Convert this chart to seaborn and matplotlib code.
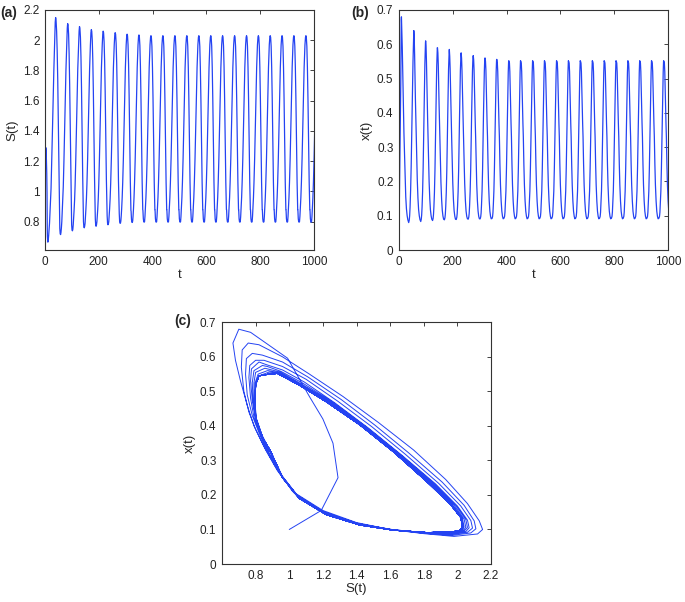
import matplotlib
matplotlib.use("Agg")
import matplotlib.pyplot as plt
import seaborn as sns
import pandas as pd

sns.set_style("white")
plt.rcParams["font.family"] = ["Liberation Sans", "DejaVu Sans"]

# times of the x(t) maxima; the last one lies past t = 1000
x_peak_t = [9, 55, 99, 143, 187, 231, 276, 320, 364, 409, 453, 498, 542, 587, 631,
            675, 720, 764, 808, 852, 896, 940, 985, 1029]

# start-up transient, t = 0 .. 9
transient_t = [0, 1.5, 3, 4.5, 5.5, 6.5, 7.5, 8.3]
transient_S = [1.00, 1.19, 1.29, 1.26, 1.20, 1.12, 0.99, 0.77]
transient_x = [0.10, 0.155, 0.25, 0.35, 0.42, 0.485, 0.596, 0.671]

# where each traced point falls inside one cycle (fraction of the period)
cycle_phase = [0, 0.034, 0.068, 0.101, 0.135, 0.169, 0.203, 0.248, 0.293, 0.349, 0.405,
               0.462, 0.518, 0.586, 0.631, 0.664, 0.698, 0.743, 0.788, 0.833, 0.867,
               0.901, 0.935, 0.968, 0.986]

# one loop per cycle; the last loop is the limit cycle
loop_S = [
    [0.70, 0.665, 0.68, 0.71, 0.75, 0.79, 0.85, 0.92, 1.02, 1.20, 1.40, 1.60, 1.80, 1.98,
     2.12, 2.15, 2.13, 2.06, 1.93, 1.74, 1.53, 1.32, 1.12, 0.96, 0.82],
    [0.756, 0.72, 0.715, 0.73, 0.76, 0.80, 0.86, 0.93, 1.03, 1.20, 1.40, 1.60, 1.80, 1.97,
     2.08, 2.11, 2.10, 2.04, 1.91, 1.71, 1.51, 1.31, 1.11, 0.96, 0.84],
    [0.78, 0.745, 0.74, 0.75, 0.78, 0.82, 0.87, 0.94, 1.04, 1.21, 1.41, 1.61, 1.81, 1.97,
     2.06, 2.09, 2.08, 2.02, 1.89, 1.69, 1.49, 1.29, 1.10, 0.96, 0.85],
    [0.80, 0.765, 0.76, 0.77, 0.79, 0.83, 0.88, 0.95, 1.05, 1.21, 1.41, 1.61, 1.81, 1.97,
     2.05, 2.07, 2.06, 2.00, 1.87, 1.67, 1.47, 1.27, 1.09, 0.96, 0.86],
    [0.82, 0.775, 0.77, 0.78, 0.80, 0.84, 0.88, 0.95, 1.05, 1.22, 1.42, 1.62, 1.82, 1.97,
     2.04, 2.06, 2.05, 1.99, 1.86, 1.66, 1.46, 1.26, 1.08, 0.95, 0.87],
    [0.84, 0.79, 0.78, 0.785, 0.80, 0.84, 0.885, 0.955, 1.055, 1.22, 1.42, 1.62, 1.82, 1.97,
     2.035, 2.05, 2.04, 1.98, 1.85, 1.65, 1.45, 1.25, 1.07, 0.945, 0.87],
    [0.855, 0.80, 0.79, 0.79, 0.805, 0.84, 0.885, 0.96, 1.06, 1.22, 1.42, 1.62, 1.82, 1.97,
     2.03, 2.04, 2.03, 1.97, 1.84, 1.64, 1.44, 1.24, 1.07, 0.94, 0.875],
    [0.87, 0.815, 0.797, 0.795, 0.805, 0.84, 0.885, 0.96, 1.06, 1.22, 1.42, 1.62, 1.82, 1.97,
     2.025, 2.035, 2.025, 1.965, 1.83, 1.63, 1.43, 1.23, 1.065, 0.935, 0.88],
    [0.875, 0.82, 0.80, 0.797, 0.80, 0.835, 0.885, 0.96, 1.06, 1.22, 1.42, 1.62, 1.82, 1.97,
     2.02, 2.03, 2.02, 1.96, 1.82, 1.62, 1.42, 1.22, 1.06, 0.93, 0.88],
    [0.88, 0.82, 0.80, 0.797, 0.80, 0.835, 0.885, 0.96, 1.06, 1.22, 1.42, 1.62, 1.82, 1.97,
     2.02, 2.03, 2.02, 1.96, 1.82, 1.62, 1.42, 1.22, 1.06, 0.93, 0.88],
]
loop_x = [
    [0.68, 0.64, 0.59, 0.53, 0.46, 0.40, 0.34, 0.28, 0.21, 0.155, 0.12, 0.10, 0.088, 0.080,
     0.087, 0.10, 0.125, 0.175, 0.245, 0.33, 0.41, 0.485, 0.55, 0.60, 0.635],
    [0.64, 0.62, 0.57, 0.50, 0.44, 0.39, 0.33, 0.27, 0.205, 0.152, 0.118, 0.10, 0.089, 0.083,
     0.09, 0.102, 0.125, 0.17, 0.237, 0.322, 0.402, 0.476, 0.542, 0.585, 0.605],
    [0.61, 0.595, 0.55, 0.49, 0.43, 0.38, 0.325, 0.265, 0.20, 0.15, 0.117, 0.10, 0.09, 0.086,
     0.092, 0.104, 0.126, 0.168, 0.233, 0.318, 0.398, 0.471, 0.535, 0.572, 0.59],
    [0.59, 0.575, 0.54, 0.48, 0.425, 0.375, 0.32, 0.26, 0.197, 0.148, 0.116, 0.099, 0.09, 0.088,
     0.094, 0.105, 0.127, 0.168, 0.232, 0.315, 0.394, 0.467, 0.527, 0.562, 0.578],
    [0.585, 0.565, 0.53, 0.475, 0.42, 0.37, 0.32, 0.258, 0.195, 0.146, 0.115, 0.099, 0.09, 0.089,
     0.095, 0.106, 0.129, 0.17, 0.233, 0.317, 0.396, 0.468, 0.524, 0.558, 0.572],
    [0.575, 0.56, 0.525, 0.47, 0.42, 0.37, 0.325, 0.255, 0.193, 0.145, 0.114, 0.098, 0.091, 0.09,
     0.096, 0.107, 0.13, 0.171, 0.235, 0.32, 0.399, 0.469, 0.522, 0.556, 0.565],
    [0.567, 0.555, 0.525, 0.47, 0.42, 0.37, 0.327, 0.253, 0.192, 0.144, 0.114, 0.098, 0.091, 0.091,
     0.097, 0.108, 0.132, 0.172, 0.236, 0.322, 0.401, 0.47, 0.52, 0.554, 0.56],
    [0.56, 0.55, 0.525, 0.47, 0.42, 0.37, 0.33, 0.252, 0.191, 0.143, 0.113, 0.098, 0.091, 0.092,
     0.097, 0.109, 0.133, 0.172, 0.237, 0.324, 0.402, 0.47, 0.519, 0.553, 0.556],
    [0.555, 0.545, 0.52, 0.47, 0.42, 0.37, 0.33, 0.25, 0.19, 0.143, 0.113, 0.098, 0.091, 0.093,
     0.098, 0.11, 0.135, 0.172, 0.238, 0.325, 0.403, 0.47, 0.518, 0.552, 0.552],
    [0.55, 0.545, 0.52, 0.47, 0.42, 0.37, 0.33, 0.25, 0.19, 0.143, 0.113, 0.098, 0.091, 0.093,
     0.098, 0.11, 0.135, 0.172, 0.238, 0.325, 0.403, 0.47, 0.518, 0.552, 0.55],
]

blue = "#2443f2"

rows = list(zip(transient_t, transient_S, transient_x))
for k in range(len(x_peak_t) - 1):
    t0, t1 = x_peak_t[k], x_peak_t[k + 1]
    seg = min(k, len(loop_S) - 1)
    for f, s, x in zip(cycle_phase, loop_S[seg], loop_x[seg]):
        rows.append((t0 + f * (t1 - t0), s, x))
df = pd.DataFrame(rows, columns=["t", "S", "x"])
df_plot = df[df["t"] <= 1000]

fig = plt.figure(figsize=(6.85, 6.02), dpi=100)
ax_a = fig.add_axes([0.0657, 0.5847, 0.3927, 0.3987])
ax_b = fig.add_axes([0.5825, 0.5847, 0.3927, 0.3987])
ax_c = fig.add_axes([0.3241, 0.0631, 0.3927, 0.4015])

sns.lineplot(data=df, x="t", y="S", ax=ax_a, color=blue, lw=0.9, sort=False, estimator=None)
sns.lineplot(data=df, x="t", y="x", ax=ax_b, color=blue, lw=0.9, sort=False, estimator=None)
sns.lineplot(data=df_plot, x="S", y="x", ax=ax_c, color=blue, lw=0.7, sort=False, estimator=None)

ticks_t = [0, 200, 400, 600, 800, 1000]
ticks_S = [0.8, 1, 1.2, 1.4, 1.6, 1.8, 2, 2.2]
ticks_x = [0, 0.1, 0.2, 0.3, 0.4, 0.5, 0.6, 0.7]
lab = lambda v: [f"{a:g}" for a in v]

ax_a.set_xlim(0, 1000)
ax_a.set_ylim(0.613, 2.2)
ax_a.set_xticks(ticks_t)
ax_a.set_yticks(ticks_S, lab(ticks_S))
ax_a.set_xlabel("t")
ax_a.set_ylabel("S(t)")

ax_b.set_xlim(0, 1000)
ax_b.set_ylim(0, 0.7)
ax_b.set_xticks(ticks_t)
ax_b.set_yticks(ticks_x, lab(ticks_x))
ax_b.set_xlabel("t")
ax_b.set_ylabel("x(t)")

ax_c.set_xlim(0.6, 2.2)
ax_c.set_ylim(0, 0.7)
ax_c.set_xticks(ticks_S, lab(ticks_S))
ax_c.set_yticks(ticks_x, lab(ticks_x))
ax_c.set_xlabel("S(t)")
ax_c.set_ylabel("x(t)")

for ax in (ax_a, ax_b, ax_c):
    for sp in ax.spines.values():
        sp.set_visible(True)
        sp.set_color("#333333")
        sp.set_linewidth(0.8)
    ax.tick_params(direction="in", length=3, width=0.6, top=True, right=True,
                   labelsize=8.5, pad=4, colors="#222222")
    ax.xaxis.label.set_size(9.5)
    ax.yaxis.label.set_size(9.5)
    ax.xaxis.labelpad = 1
    ax.yaxis.labelpad = 3

fig.text(0.0, 0.99, "(a)", fontsize=10, fontweight="bold", va="top")
fig.text(0.513, 0.99, "(b)", fontsize=10, fontweight="bold", va="top")
fig.text(0.255, 0.478, "(c)", fontsize=10, fontweight="bold", va="top")

fig.savefig("out.png", dpi=100)
